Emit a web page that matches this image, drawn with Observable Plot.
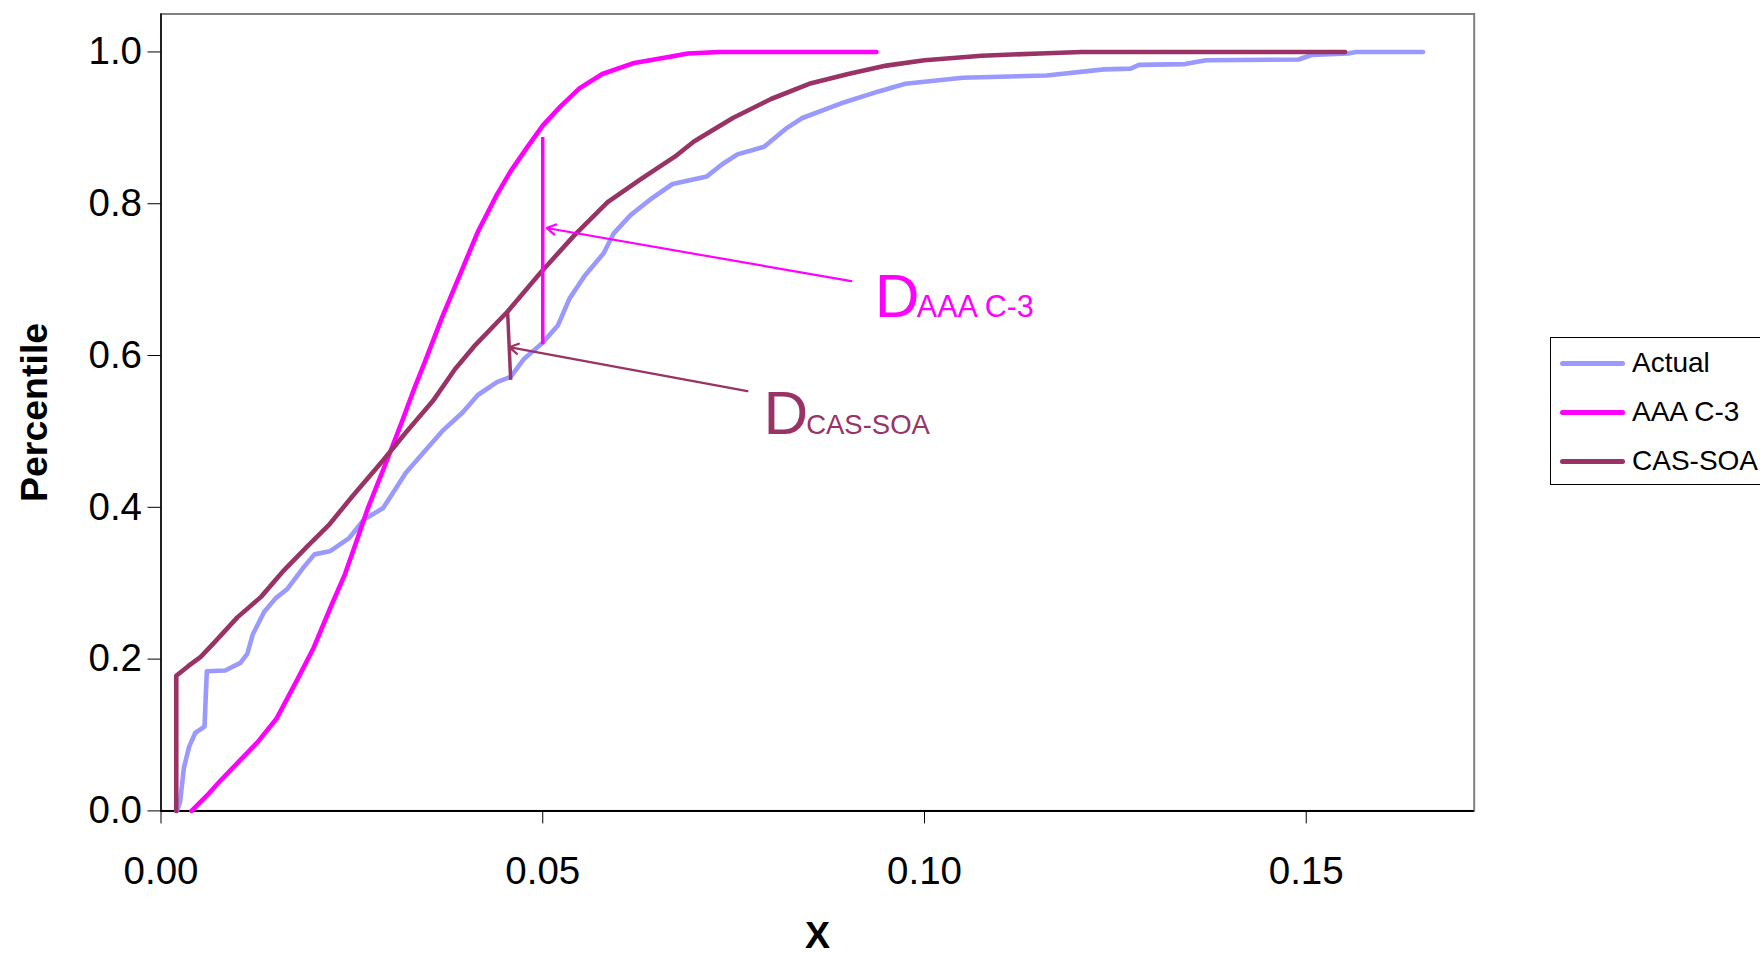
<!DOCTYPE html>
<html>
<head>
<meta charset="utf-8">
<script src="https://cdn.jsdelivr.net/npm/d3@7"></script>
<script src="https://cdn.jsdelivr.net/npm/@observablehq/plot@0.6"></script>
<style>
  html, body { margin: 0; padding: 0; background: white; }
  #wrap { position: relative; width: 1760px; height: 957px; overflow: hidden; font-family: "Liberation Sans", Arial, sans-serif; }
  #legend { position: absolute; left: 1550px; top: 337px; width: 230px; height: 148px; border: 1.5px solid #000; background: #fff; box-sizing: border-box; }
  .item { position: absolute; left: 0; height: 30px; font-size: 28px; line-height: 30px; color: #000; white-space: nowrap; }
  .sw { position: absolute; left: 9px; top: 13px; width: 65px; height: 4.5px; border-radius: 2.5px; }
  .lab { position: absolute; left: 81px; top: 0; }
</style>
</head>
<body>
<div id="wrap"><div id="chart"></div><div id="legend"></div></div>
<script>
// ---- data ----
const seriesNames = ["Actual", "AAA C-3", "CAS-SOA"];
const seriesColors = ["#9999FF", "#FF00FF", "#993366"];

const actualX = [0.0021,0.0025,0.0030,0.0037,0.0045,0.0057,0.0060,0.0084,0.0104,0.0113,0.0120,0.0135,0.0150,0.0165,0.0186,0.0201,0.0221,0.0246,0.0266,0.0291,0.0321,0.0341,0.0368,0.0395,0.0415,0.0440,0.0458,0.0475,0.0500,0.0520,0.0535,0.0555,0.0580,0.0593,0.0615,0.0640,0.0670,0.0715,0.0735,0.0755,0.0790,0.0820,0.0840,0.0890,0.0940,0.0975,0.1050,0.1160,0.1235,0.1270,0.1281,0.1341,0.1369,0.1490,0.1507,0.1555,0.1565,0.1653];
const actualY = [0.000,0.012,0.057,0.085,0.103,0.111,0.184,0.185,0.195,0.207,0.232,0.262,0.280,0.292,0.320,0.338,0.342,0.359,0.384,0.399,0.446,0.469,0.500,0.525,0.548,0.565,0.572,0.595,0.617,0.640,0.675,0.705,0.735,0.761,0.785,0.805,0.826,0.836,0.852,0.865,0.875,0.900,0.913,0.932,0.948,0.958,0.966,0.969,0.977,0.978,0.983,0.984,0.989,0.990,0.996,0.998,1.000,1.000];

const aaaX = [0.0040,0.0060,0.0078,0.0100,0.0126,0.0151,0.0178,0.0200,0.0222,0.0241,0.0256,0.0271,0.0296,0.0316,0.0330,0.0345,0.0368,0.0393,0.0415,0.0440,0.0458,0.0480,0.0500,0.0523,0.0548,0.0578,0.0618,0.0663,0.0690,0.0731,0.0937];
const aaaY = [0.000,0.020,0.040,0.063,0.090,0.121,0.172,0.215,0.268,0.312,0.355,0.399,0.462,0.514,0.552,0.590,0.650,0.710,0.763,0.812,0.843,0.875,0.903,0.928,0.952,0.971,0.985,0.993,0.998,1.000,1.000];

const casX = [0.0020,0.0020,0.0036,0.0052,0.0070,0.0100,0.0131,0.0161,0.0191,0.0221,0.0251,0.0291,0.0321,0.0356,0.0385,0.0410,0.0454,0.0497,0.0541,0.0585,0.0628,0.0673,0.0698,0.0749,0.0799,0.0849,0.0900,0.0950,0.1000,0.1075,0.1151,0.1206,0.1551];
const casY = [0.000,0.178,0.191,0.203,0.222,0.255,0.282,0.317,0.348,0.378,0.415,0.462,0.499,0.540,0.582,0.612,0.658,0.709,0.758,0.802,0.832,0.862,0.882,0.913,0.938,0.958,0.971,0.982,0.989,0.995,0.998,1.000,1.000];

const xTicks = [0, 0.05, 0.10, 0.15];
const yTicks = [0, 0.2, 0.4, 0.6, 0.8, 1.0];
const xTitle = "X";
const yTitle = "Percentile";

// annotations: vertical distance bars, pointer lines, labels
const dBars = [
  {x1: 0.0500, y1: 0.888, x2: 0.0500, y2: 0.615, c: 1},
  {x1: 0.0454, y1: 0.657, x2: 0.0458, y2: 0.568, c: 2}
];
const pointers = [
  {x1: 0.0904, y1: 0.698, x2: 0.0505, y2: 0.768, c: 1},
  {x1: 0.0768, y1: 0.553, x2: 0.0456, y2: 0.611, c: 2}
];
const dLabelAAA = {x: 0.0935, y: 0.651, big: "D", sx: 0.0990, sub: "AAA C-3", c: 1};
const dLabelCAS = {x: 0.0789, y: 0.496, big: "D", sx: 0.0845, sub: "CAS-SOA", c: 2};

// ---- build tables ----
const rows = [];
[[actualX, actualY], [aaaX, aaaY], [casX, casY]].forEach(([xs, ys], i) => {
  xs.forEach((x, j) => rows.push({series: seriesNames[i], x, y: ys[j]}));
});
const col = c => seriesColors[c];

const chart = Plot.plot({
  width: 1760,
  height: 957,
  marginLeft: 160.5,
  marginRight: 286.3,
  marginTop: 13.5,
  marginBottom: 146.6,
  style: {fontFamily: "'Liberation Sans', Arial, sans-serif", background: "white", color: "black"},
  x: {domain: [0, 0.172]},
  y: {domain: [0, 1.05]},
  marks: [
    Plot.frame({stroke: "#808080", strokeWidth: 2}),
    Plot.ruleX([0], {stroke: "black", strokeWidth: 1.5}),
    Plot.ruleY([0], {stroke: "black", strokeWidth: 2}),
    Plot.axisX({ticks: xTicks, tickFormat: d3.format(".2f"), tickSize: 13, tickPadding: 33, fontSize: 38.5, label: null, stroke: "black"}),
    Plot.axisY({ticks: yTicks, tickFormat: d3.format(".1f"), tickSize: 13, tickPadding: 6, fontSize: 38.5, label: null, stroke: "black"}),
    Plot.text([xTitle], {frameAnchor: "bottom", dy: 137, fontSize: 37.5, fontWeight: "bold", fill: "black", textAnchor: "middle", lineAnchor: "bottom"}),
    Plot.text([yTitle], {frameAnchor: "left", dx: -114, rotate: -90, fontSize: 37.5, fontWeight: "bold", fill: "black", textAnchor: "middle", lineAnchor: "bottom"}),
    Plot.line(rows, {x: "x", y: "y", z: "series", stroke: d => seriesColors[seriesNames.indexOf(d.series)], strokeWidth: 4.6, strokeLinejoin: "round", strokeLinecap: "round"}),
    Plot.link(dBars, {x1: "x1", y1: "y1", x2: "x2", y2: "y2", stroke: d => col(d.c), strokeWidth: 3.5}),
    Plot.arrow(pointers, {x1: "x1", y1: "y1", x2: "x2", y2: "y2", stroke: d => col(d.c), strokeWidth: 2.2, headLength: 7, bend: 0}),
    Plot.text([dLabelAAA, dLabelCAS], {x: "x", y: "y", text: "big", fill: d => col(d.c), fontSize: 62, textAnchor: "start", lineAnchor: "bottom"}),
    Plot.text([dLabelAAA], {x: "sx", y: "y", text: "sub", fill: d => col(d.c), fontSize: 30.5, textAnchor: "start", lineAnchor: "bottom"}),
    Plot.text([dLabelCAS], {x: "sx", y: "y", text: "sub", fill: d => col(d.c), fontSize: 27.5, textAnchor: "start", lineAnchor: "bottom"})
  ]
});
document.getElementById("chart").appendChild(chart);

// legend
const legend = document.getElementById("legend");
const tops = [10, 59, 108];
seriesNames.forEach((name, i) => {
  const it = document.createElement("div");
  it.className = "item";
  it.style.top = tops[i] + "px";
  it.innerHTML = `<div class="sw" style="background:${seriesColors[i]}"></div><div class="lab">${name}</div>`;
  legend.appendChild(it);
});
</script>
</body>
</html>
